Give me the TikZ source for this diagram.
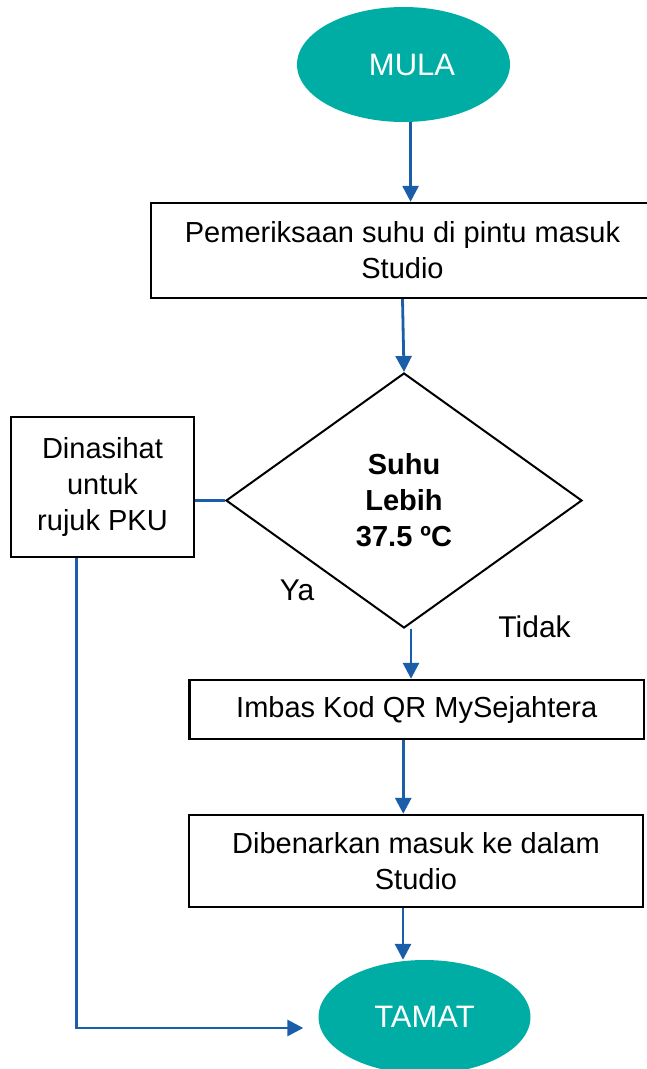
\documentclass[tikz,border=0pt]{standalone}
\usepackage{fontspec}
\setmainfont{Liberation Sans}
\usetikzlibrary{shapes.geometric,arrows.meta,calc}
\definecolor{teal1}{RGB}{0,173,165}
\definecolor{flow}{RGB}{26,94,170}
\begin{document}
\begin{tikzpicture}[x=1pt,y=-1pt,
  box/.style={draw=black,line width=2.4pt,rectangle,inner sep=0pt,align=center,font=\fontsize{29}{36}\selectfont},
  term/.style={ellipse,fill=teal1,text=white,inner sep=0pt,minimum width=213pt,minimum height=115pt,font=\fontsize{31}{36}\selectfont},
  arr/.style={draw=flow,line width=2.8pt,-{Triangle[length=16pt,width=16pt]}},
  link/.style={draw=flow,line width=2.8pt},
  lbl/.style={font=\fontsize{30}{36}\selectfont,inner sep=0pt}]
\useasboundingbox (0,0) rectangle (647,1069);
\clip (0,0) rectangle (647,1069);
% terminals
\node[term] (mula) at (403.5,64.5) {\hspace*{17pt}MULA};
\node[term,minimum width=212pt,minimum height=114pt] (tamat) at (424.5,1017) {TAMAT};
% boxes
\node[box,minimum width=503pt,minimum height=95pt] (periksa) at (402.5,250.5) {Pemeriksaan suhu di pintu masuk\\Studio};
\node[box,minimum width=183pt,minimum height=140pt] (nasihat) at (102.5,487) {Dinasihat\\untuk\\rujuk PKU};
\node[draw=black,diamond,line width=2pt,minimum width=356pt,minimum height=255pt,inner sep=0pt,align=center,font=\bfseries\fontsize{29}{36}\selectfont] (dia) at (404,500.5) {Suhu\\Lebih\\37.5 ºC};
\node[box,minimum width=454.5pt,minimum height=59pt] (imbas) at (416.75,709.5) {Imbas Kod QR MySejahtera};
\node[box,minimum width=454pt,minimum height=92pt] (masuk) at (416,861) {Dibenarkan masuk ke dalam\\Studio};
% labels
\node[lbl] (ya) at (297,590) {Ya};
\node[lbl] (tidak) at (534.6,626.7) {Tidak};
% connectors
\draw[arr] (mula.-83) -- (mula.-83 |- periksa.north);
\draw[arr] (periksa.south) -- (dia.north);
\draw[link] (dia.west) -- (dia.west -| nasihat.east);
\draw[arr] ([xshift=7pt]dia.south) -- ([xshift=7pt]dia.south |- imbas.north);
\draw[arr] ([xshift=-13.5pt]imbas.south) -- ([xshift=-13.5pt]imbas.south |- masuk.north);
\draw[arr] ([xshift=-13pt]masuk.south) -- ([xshift=-13pt]masuk.south |- tamat.north);
\coordinate (tin) at ([xshift=-15pt,yshift=-11pt]tamat.west);
\draw[arr] ([xshift=-26pt]nasihat.south) |- (tin);
\end{tikzpicture}
\end{document}
